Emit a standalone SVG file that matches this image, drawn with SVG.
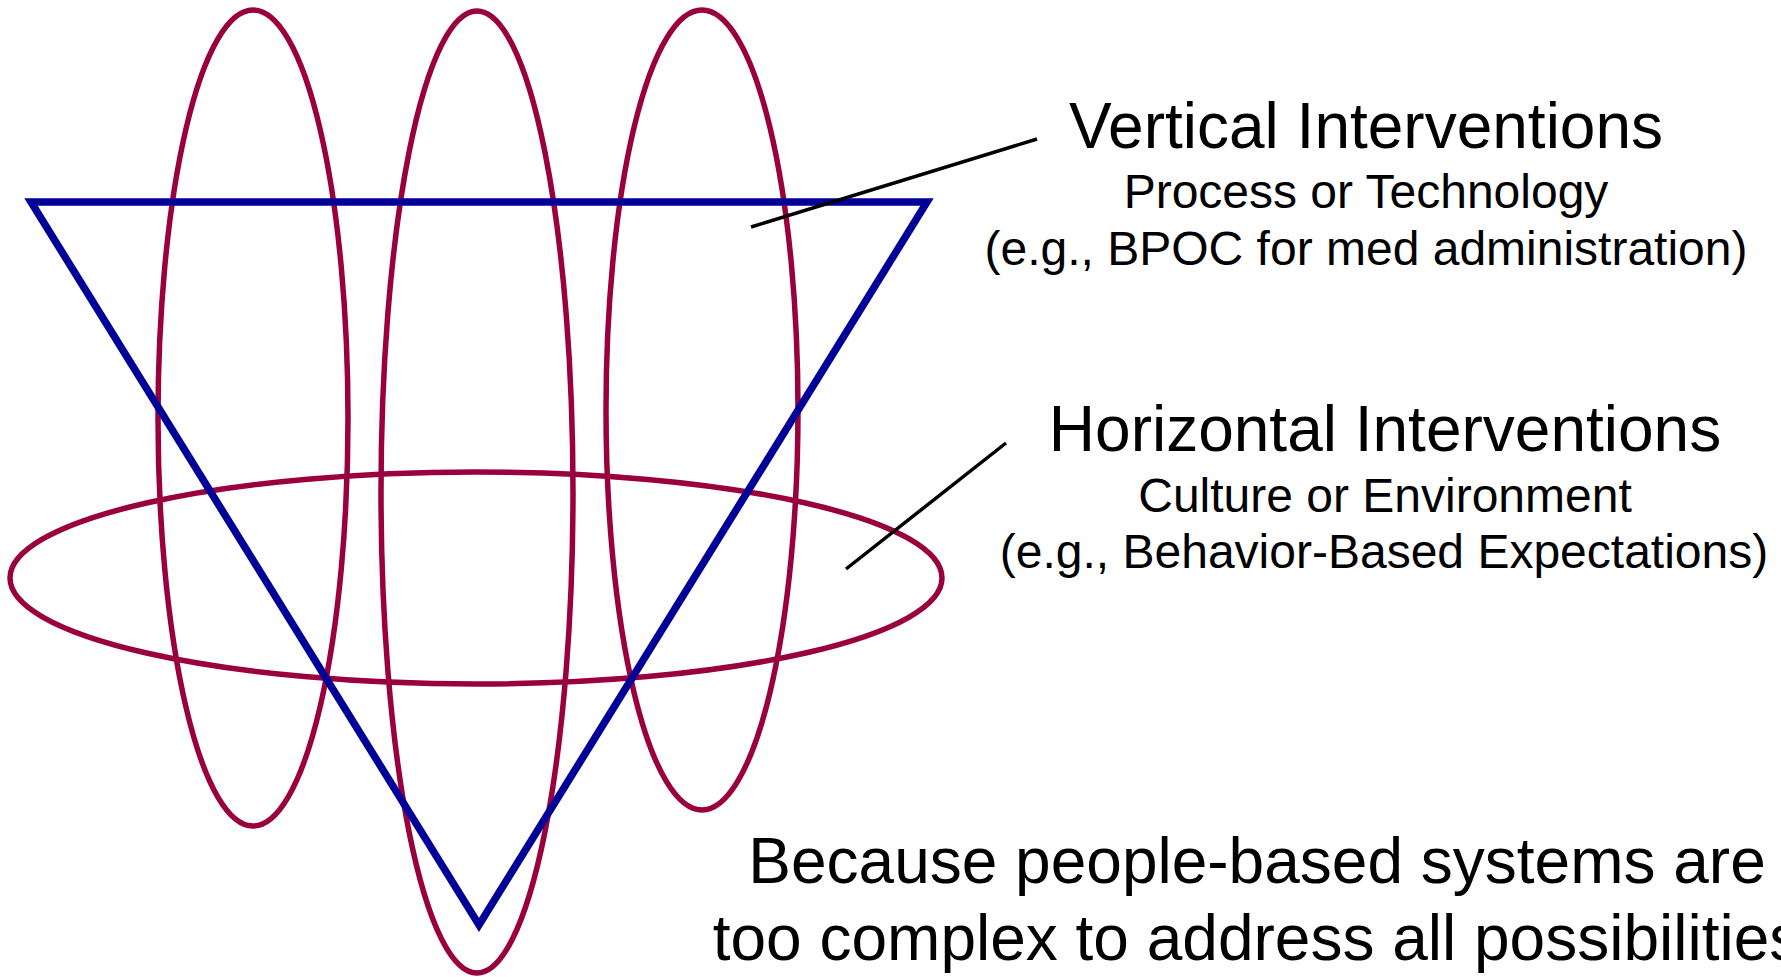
<svg xmlns="http://www.w3.org/2000/svg" width="1781" height="977" viewBox="0 0 1781 977">
<style>
.ring{fill:none;stroke:#99003d;stroke-width:5.5}
.tri{fill:none;stroke:#000099;stroke-width:7.5;stroke-linejoin:miter}
.lead{stroke:#000;stroke-width:3.5;fill:none}
text{font-family:"Liberation Sans",Arial,sans-serif;fill:#000;text-anchor:middle}
.t1{font-size:64px}
.t2{font-size:48px}
</style>
<rect width="1781" height="977" fill="#fff"/>
<g id="ellipse-left"><ellipse class="ring" cx="253" cy="418" rx="95" ry="408"/></g>
<g id="ellipse-middle"><ellipse class="ring" cx="477" cy="492" rx="96" ry="481"/></g>
<g id="ellipse-right"><ellipse class="ring" cx="702" cy="410" rx="96" ry="400"/></g>
<g id="ellipse-horizontal"><ellipse class="ring" cx="476" cy="578" rx="466" ry="106"/></g>
<g id="triangle"><polygon class="tri" points="31,202 927,202 479,925"/></g>
<g id="connectors">
<line class="lead" x1="751" y1="227" x2="1037" y2="139"/>
<line class="lead" x1="846" y1="569" x2="1006" y2="443"/>
</g>
<g id="label-vertical">
<text class="t1" x="1366" y="148">Vertical Interventions</text>
<text class="t2" x="1366" y="208">Process or Technology</text>
<text class="t2" x="1366" y="265">(e.g., BPOC for med administration)</text>
</g>
<g id="label-horizontal">
<text class="t1" x="1385" y="451">Horizontal Interventions</text>
<text class="t2" x="1385" y="512">Culture or Environment</text>
<text class="t2" x="1384" y="568">(e.g., Behavior-Based Expectations)</text>
</g>
<g id="label-bottom">
<text class="t1" x="1257" y="883">Because people-based systems are</text>
<text class="t1" x="1257" y="960">too complex to address all possibilities</text>
</g>
</svg>
